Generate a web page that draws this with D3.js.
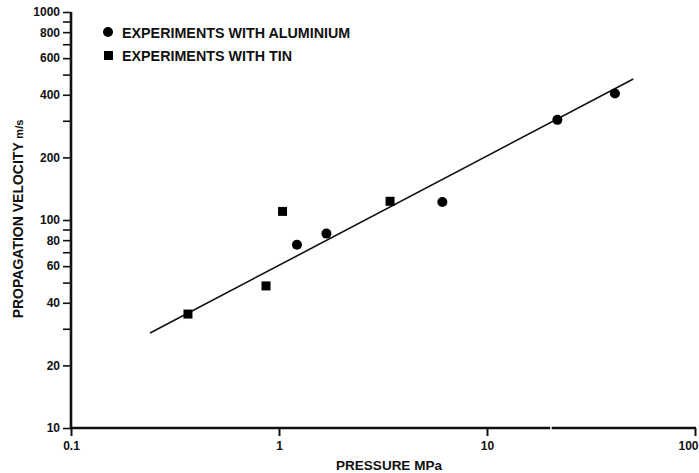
<!DOCTYPE html>
<html>
<head>
<meta charset="utf-8">
<script src="https://cdn.jsdelivr.net/npm/d3@7"></script>
<style>
  body { margin: 0; background: #fff; }
  svg text { font-family: "Liberation Sans", Arial, sans-serif; font-weight: bold; fill: #111; }
</style>
</head>
<body>
<div id="graph"></div>
<script>
"use strict"

// pressure (MPa) vs propagation velocity (m/s)
var aluminiumP = [1.22, 1.69, 6.1, 21.8, 41.2]
var aluminiumV = [76, 86, 122, 303, 406]
var tinP = [0.365, 0.866, 1.04, 3.42]
var tinV = [35.3, 48.2, 110, 123]
var fitP = [0.24, 50.5]
var fitV = [28.6, 476]
var yTicks = [10, 20, 30, 40, 50, 60, 70, 80, 90, 100, 200, 300, 400, 500, 600, 700, 800, 900, 1000]
var yLabelled = [10, 20, 40, 60, 80, 100, 200, 400, 600, 800, 1000]
var xTicks = [0.1, 1, 10, 100]
var xBreak = [19.9, 20.7]

var width = 699, height = 473

main()

function main() {
    let svg = d3.select("#graph").append("svg")
        .attr("width", width).attr("height", height)

    let x = d3.scaleLog().domain([0.1, 100]).range([71, 695])
    let y = d3.scaleLog().domain([10, 1000]).range([428, 12])

    // y axis
    let yAxis = svg.append("g")
        .attr("transform", "translate(" + x(0.1) + ",0)")
        .call(d3.axisLeft(y).tickValues(yTicks).tickSize(8).tickPadding(3)
            .tickFormat(function(d) { return yLabelled.indexOf(d) >= 0 ? d : "" }))
    yAxis.select(".domain").remove()
    yAxis.selectAll("line").attr("stroke", "#111").attr("stroke-width", 1.6)
    yAxis.selectAll("text").style("font-size", "12px").attr("fill", "#111")
    svg.append("line")
        .attr("x1", x(0.1)).attr("x2", x(0.1))
        .attr("y1", y(10) + 1).attr("y2", y(1000))
        .attr("stroke", "#111").attr("stroke-width", 2.6)

    // x axis, broken near 20 MPa
    let xAxis = svg.append("g")
        .attr("transform", "translate(0," + y(10) + ")")
        .call(d3.axisBottom(x).tickValues(xTicks).tickSize(8).tickPadding(5)
            .tickFormat(function(d) { return d }))
    xAxis.select(".domain").remove()
    xAxis.selectAll("line").attr("stroke", "#111").attr("stroke-width", 2)
    xAxis.selectAll("text").style("font-size", "12px").attr("fill", "#111")
        .attr("text-anchor", function(d) { return d == 100 ? "end" : "middle" })
        .attr("dx", function(d) { return d == 100 ? 3 : 0 })
    let segs = [[0.1, xBreak[0]], [xBreak[1], 100]]
    svg.selectAll(".xseg").data(segs).enter().append("line")
        .attr("class", "xseg")
        .attr("x1", function(d) { return x(d[0]) - 1 })
        .attr("x2", function(d) { return x(d[1]) + 1 })
        .attr("y1", y(10)).attr("y2", y(10))
        .attr("stroke", "#111").attr("stroke-width", 2.6)

    // fitted line
    svg.append("line")
        .attr("x1", x(fitP[0])).attr("y1", y(fitV[0]))
        .attr("x2", x(fitP[1])).attr("y2", y(fitV[1]))
        .attr("stroke", "#111").attr("stroke-width", 1.6)

    // points
    svg.selectAll(".alu").data(aluminiumP).enter().append("circle")
        .attr("class", "alu")
        .attr("cx", function(d) { return x(d) })
        .attr("cy", function(d, i) { return y(aluminiumV[i]) })
        .attr("r", 5)
        .attr("fill", "#000")

    svg.selectAll(".tin").data(tinP).enter().append("rect")
        .attr("class", "tin")
        .attr("x", function(d) { return x(d) - 4.5 })
        .attr("y", function(d, i) { return y(tinV[i]) - 4.5 })
        .attr("width", 9).attr("height", 9)
        .attr("fill", "#000")

    // legend
    svg.append("circle").attr("cx", 108).attr("cy", 32).attr("r", 5).attr("fill", "#000")
    svg.append("rect").attr("x", 104).attr("y", 51).attr("width", 9).attr("height", 9).attr("fill", "#000")
    svg.append("text").attr("x", 122).attr("y", 37.5).style("font-size", "14.3px")
        .text("EXPERIMENTS WITH ALUMINIUM")
    svg.append("text").attr("x", 122).attr("y", 60.5).style("font-size", "14.3px")
        .text("EXPERIMENTS WITH TIN")

    // axis titles
    svg.append("text")
        .attr("x", 389).attr("y", 470)
        .attr("text-anchor", "middle")
        .style("font-size", "13.5px")
        .text("PRESSURE MPa")

    let yt = svg.append("text")
        .attr("transform", "translate(23,219) rotate(-90)")
        .attr("text-anchor", "middle")
        .style("font-size", "14px")
    yt.append("tspan").text("PROPAGATION VELOCITY ")
    yt.append("tspan").style("font-size", "11px").text("m/s")
}
</script>
</body>
</html>
